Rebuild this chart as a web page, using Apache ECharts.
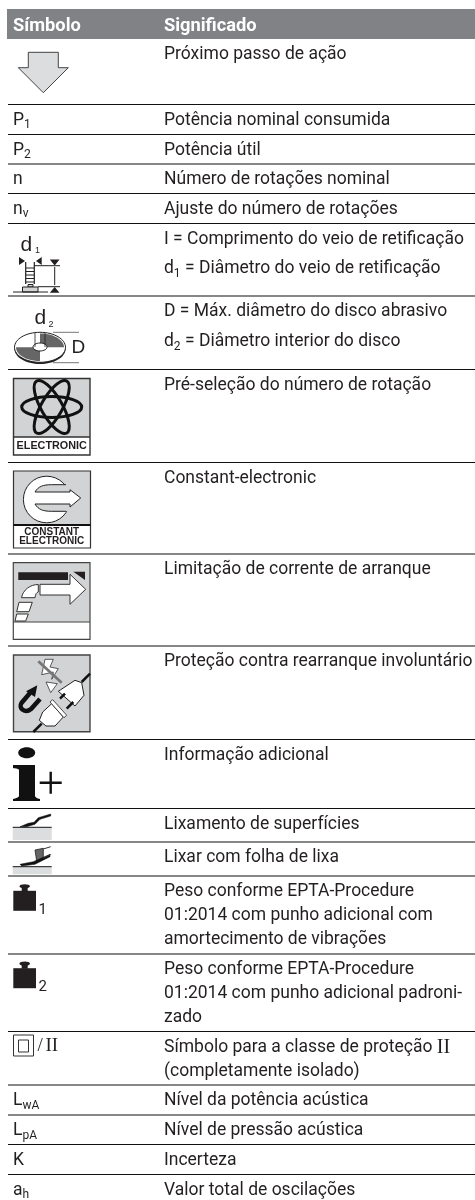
<!DOCTYPE html>
<html>
<head>
<meta charset="utf-8">
<title>Símbolo / Significado</title>
<style>
html, body { margin: 0; padding: 0; background: #fff; }
#main { width: 475px; height: 1200px; }
</style>
<script src="https://cdn.jsdelivr.net/npm/echarts@6/dist/echarts.min.js"></script>
</head>
<body>
<div id="main"></div>
<script>
// top of every row on the page (the first one is the grey header)
var rowTops = [9, 39, 104.5, 134.5, 164, 193.5, 223.5, 296, 369.5, 462.5, 554, 646, 739.5, 808.5, 842, 876, 954, 1031.5, 1085, 1115, 1144.5, 1174.5];
// left column, empty where the row has a pictogram
var symbols = ['Símbolo', '', 'P{s|1}', 'P{s|2}', 'n', 'n{s|v}', '', '', '', '', '', '', '', '', '', '', '', '', 'L{s|wA}', 'L{s|pA}', 'K', 'a{s|h}'];
// right column
var meanings = [
    ['Significado'],
    ['Próximo passo de ação'],
    ['Potência nominal consumida'],
    ['Potência útil'],
    ['Número de rotações nominal'],
    ['Ajuste do número de rotações'],
    ['I = Comprimento do veio de retificação', 'd{s|1} = Diâmetro do veio de retificação'],
    ['D = Máx. diâmetro do disco abrasivo', 'd{s|2} = Diâmetro interior do disco'],
    ['Pré-seleção do número de rotação'],
    ['Constant-electronic'],
    ['Limitação de corrente de arranque'],
    ['Proteção contra rearranque involuntário'],
    ['Informação adicional'],
    ['Lixamento de superfícies'],
    ['Lixar com folha de lixa'],
    ['Peso conforme EPTA-Procedure', '01:2014 com punho adicional com', 'amortecimento de vibrações'],
    ['Peso conforme EPTA-Procedure', '01:2014 com punho adicional padroni-', 'zado'],
    ['Símbolo para a classe de proteção {r|II}', '(completamente isolado)'],
    ['Nível da potência acústica'],
    ['Nível de pressão acústica'],
    ['Incerteza'],
    ['Valor total de oscilações']
];
var lineGaps = [0, 0, 0, 0, 0, 0, 29.5, 30, 0, 0, 0, 0, 0, 0, 0, 24, 24, 24, 0, 0, 0, 0];

var FONT = 'Roboto, "Liberation Sans", sans-serif';
var INK = '#231f20';
var richText = {
    s: { fontFamily: FONT, fontSize: 12, fill: INK, padding: [9, 0, 0, 0] },
    r: { fontFamily: '"Liberation Serif", serif', fontSize: 20, fill: INK }
};

var myChart = echarts.init(document.getElementById('main'));

/* pictogram helpers, all in page pixels */
function p(d, fill, stroke, lw) {
    return { type: 'path', shape: { pathData: d }, style: { fill: fill || 'none', stroke: stroke || 'none', lineWidth: lw || 1 } };
}
function ell(cx, cy, rx, ry, fill, stroke, lw, rot) {
    return {
        type: 'ellipse', x: cx, y: cy, rotation: rot || 0,
        shape: { cx: 0, cy: 0, rx: rx, ry: ry },
        style: { fill: fill || 'none', stroke: stroke || 'none', lineWidth: lw || 1 }
    };
}
function txt(s, x, y, size, weight, family, align) {
    return {
        type: 'text', x: x, y: y,
        style: {
            text: s, fill: INK, fontSize: size, fontWeight: weight || 'normal',
            fontFamily: family || '"Liberation Sans", sans-serif',
            align: align || 'left', verticalAlign: 'middle'
        }
    };
}
// quarter sector of the disc, as a polyline
function discQuarter(cx, cy, rx, ry, from, to) {
    var d = 'M' + cx + ' ' + cy, i, a;
    for (i = 0; i <= 12; i++) {
        a = (from + (to - from) * i / 12) * Math.PI / 180;
        d += 'L' + (cx + rx * Math.cos(a)).toFixed(1) + ' ' + (cy + ry * Math.sin(a)).toFixed(1);
    }
    return d + 'Z';
}

function pictograms() {
    var c = [];
    var GREY = '#d2d3d5', DARK = '#231f20';
    // next step arrow
    c.push(p('M28.3 52.3H58.3V67.7H68.3L43.3 92.7L18.3 67.7H28.3Z', '#dcddde', '#444', 1));
    // d1 shaft
    c.push(txt('d', 20.5, 245.5, 21), txt('1', 35, 251, 9));
    c.push(p('M19 257V265L25 261ZM41.7 257V265L36 261Z', DARK));
    c.push(p('M25.7 262V284M34.3 262V284', 'none', DARK, 1.2));
    c.push(p('M26 268H34M26 271.5H34M26 275H34M26 278.5H34M26 282H34', 'none', DARK, 1));
    c.push(p('M28 284.5H33V287H28Z', GREY, DARK, 1));
    c.push(p('M22.5 287H38V292H22.5Z', GREY, DARK, 1));
    c.push(p('M13 292H48M34 265.7H60M38 286.7H60M54.7 267V285', 'none', DARK, 1));
    c.push(p('M49.8 259.5H59.5L54.7 265.5ZM49.8 292.7H59.5L54.7 287Z', DARK));
    // d2 disc
    c.push(txt('d', 34.5, 318.5, 21), txt('2', 48.5, 324.5, 9));
    c.push(ell(40, 349, 25.5, 15, DARK));
    c.push(ell(40, 347.3, 25.5, 15, '#fff', DARK, 1));
    c.push(p(discQuarter(40, 347.3, 24, 13.8, -90, 0), '#666'));
    c.push(p(discQuarter(40, 347.3, 24, 13.8, 90, 180), '#666'));
    c.push(ell(40, 347, 7, 4, '#fff', DARK, 1));
    c.push(p('M35 333V347M45 333V347', 'none', DARK, 0.8));
    c.push(p('M53 332.3H79M53 362.7H79', 'none', '#777', 1));
    c.push(txt('D', 71.5, 348, 19));
    // electronic box
    c.push(p('M13.5 378.5H90V455H13.5Z', '#fff'));
    c.push(p('M13.5 378.5H90V437H13.5Z', GREY));
    c.push(p('M13.5 378.5H90V455H13.5ZM13.5 437H90', 'none', '#333', 1.4));
    c.push(ell(51.7, 407, 30, 10.5, 'none', '#111', 3));
    c.push(ell(51.7, 407, 30, 10.5, 'none', '#111', 3, Math.PI / 3));
    c.push(ell(51.7, 407, 30, 10.5, 'none', '#111', 3, -Math.PI / 3));
    c.push(txt('ELECTRONIC', 51.7, 446.5, 10.8, 'bold', null, 'center'));
    // constant electronic box
    c.push(p('M13.5 471H90.5V548H13.5Z', '#fff'));
    c.push(p('M13.5 471H90.5V525H13.5Z', GREY));
    c.push(p('M13.5 471H90.5V548H13.5Z', 'none', '#333', 1.2));
    c.push(p('M13.5 525H90.5', 'none', '#111', 2));
    c.push(ell(46.7, 499.5, 23.3, 23.3, '#fff', '#222', 1));
    c.push(p('M35 492C38.3 486.3 43.3 484.7 51.7 484.7H72V492Z', GREY));
    c.push(p('M35 504C38.3 509.7 43.3 511.3 51.7 511.3H72V504Z', GREY));
    c.push(p('M66 484.7H51.7C43.3 484.7 38.3 486.3 35 492M66 511.3H51.7C43.3 511.3 38.3 509.7 35 504', 'none', '#222', 1));
    c.push(p('M35 492H70V489.7L80.7 498L70 507V504H35C37 500 37 496 35 492Z', '#fff'));
    c.push(p('M35 492H70V489.7L80.7 498L70 507V504H35', 'none', '#222', 1));
    c.push(txt('CONSTANT', 51.7, 532, 10, 'bold', null, 'center'));
    c.push(txt('ELECTRONIC', 51.7, 541.5, 10, 'bold', null, 'center'));
    // inrush limit box
    c.push(p('M13.3 562.7H90V639.3H13.3Z', '#fff'));
    c.push(p('M13.3 562.7H90V622H13.3Z', GREY));
    c.push(p('M13.3 562.7H90V639.3H13.3ZM13.3 622H90', 'none', '#444', 1.2));
    c.push(p('M18.3 572.3H68V580H18.3ZM73.3 571.7H85V580Z', DARK));
    c.push(p('M40 584.3H70V574.3L85.7 589.3L70 604.3V595H40Z', '#fff', '#333', 1));
    c.push(p('M38.3 584.5C30 584.5 23 590 21.5 597.7H35C35.5 594 36.5 592.5 38.3 592Z', '#fff', '#333', 1));
    c.push(p('M19 602.3H32.3L29 611.7H16.7ZM16.7 614H28.3L25.7 621H15Z', '#fff', '#333', 1));
    // restart protection box
    c.push(p('M13.5 655H90V731.7H13.5Z', GREY, '#444', 1.4));
    c.push(p('M45 659.3H53.3L50 667L58.3 668.7L51.7 679.3L53.3 672L41.7 674.7Z', '#fff', '#333', 0.8));
    c.push(p('M46 682L57.3 683.7L50.7 692.7Z', '#fff', '#333', 0.8));
    c.push(p('M38.3 661.3L61.7 682.7', 'none', '#777', 2.8));
    c.push(p('M58.3 691.3L75 680.3L81.7 682.7L84 695.3L75 706Z', '#fff', '#222', 1));
    c.push(p('M81.7 682L90 673.7', 'none', '#111', 2.5));
    c.push(p('M51.7 703.7L63.3 717L55 726H46L39.3 720.3L42.7 712Z', '#fff', '#222', 1));
    c.push(p('M50 702L52.7 699.7L66.7 715.3L64 717.7Z', '#fff', '#222', 0.8));
    c.push(p('M41.7 723.7L33.3 732', 'none', '#111', 2.5));
    c.push(p('M60 698.7L65 693.7M66.7 708.7L73.3 702', 'none', '#111', 2.5));
    c.push(p('M30 693L21.5 703C18 708 25 714 31 709L40 699', 'none', '#111', 4.5));
    c.push(p('M26 691.3L37.3 685.3L35 697Z', '#111'));
    // additional information
    c.push(ell(26.7, 752.7, 8.5, 5.5, '#111'));
    c.push(p('M13 765H35V796C35 797 37 798.5 40 799V801H13V799C16 798.5 19 797 19 796V770C19 769 16 768.5 13 768Z', '#111'));
    c.push(p('M39.7 782.7H61.7M50.7 771.7V793.7', 'none', '#111', 2.4));
    // surface sanding
    c.push(p('M12.7 827.5H51.7V840H12.7Z', '#dcddde'));
    c.push(p('M12.7 827.3H51.7', 'none', '#111', 1));
    c.push(p('M20 826.7L28.3 823.3L34 822.3L38.3 817.7L50.7 814V816L40 819.3L35 824.3L26.7 826.7Z', '#111', '#111', 0.5));
    // sanding sheet
    c.push(p('M12.7 867H51.7V874.3H12.7Z', '#dcddde'));
    c.push(p('M12.7 866.7H51.7', 'none', '#111', 1));
    c.push(p('M35 850L43.3 848.3V858.3L36.7 861.7L36 856.7Z', '#666', '#222', 0.8));
    c.push(p('M20 864.3L33.3 861.7L50 854.3V856.7L35 864.3L21.7 866Z', '#111', '#111', 0.5));
    c.push(p('M43.3 849L50.7 846.7M43.3 858L50.7 854.5', 'none', '#333', 1));
    // weights
    [884.3, 961.7].forEach(function(t, i) {
        c.push(ell(24.7, t + 2, 5.3, 2.1, DARK));
        c.push(p('M21.7 ' + (t + 3) + 'H27.7V' + (t + 7) + 'H21.7Z', DARK));
        c.push(p('M13.3 ' + (t + 6.5) + 'H36V' + (t + 26.5) + 'H13.3Z', DARK));
        c.push(txt(String(i + 1), 38.5, t + 25.5, 15, 'normal', FONT));
    });
    // protection class II
    c.push(p('M13.5 1035H33.5V1056H13.5ZM18.5 1040H28.5V1052H18.5Z', 'none', '#333', 1));
    c.push(txt('/', 37.5, 1046.5, 19, 'normal', '"Liberation Serif", serif'));
    c.push(txt('II', 45.5, 1046.5, 19, 'normal', '"Liberation Serif", serif'));
    return c;
}

var option = {
    backgroundColor: '#fff',
    animation: false,
    grid: { left: 0, right: 0, top: 0, bottom: 0 },
    xAxis: { type: 'value', min: 0, max: 475, show: false },
    yAxis: { type: 'value', min: 0, max: 1200, inverse: true, show: false },
    series: [
        {   // header band
            type: 'custom', silent: true, clip: false, data: [rowTops[0]],
            renderItem: function(params, api) {
                var a = api.coord([7, rowTops[0]]), b = api.coord([475, rowTops[1]]);
                return { type: 'rect', shape: { x: a[0], y: a[1], width: b[0] - a[0], height: b[1] - a[1] }, style: { fill: '#808285' } };
            }
        },
        {   // row rules
            type: 'custom', silent: true, clip: false, data: rowTops.slice(2),
            renderItem: function(params, api) {
                var a = api.coord([8, api.value(0)]), b = api.coord([475, api.value(0)]);
                return { type: 'line', shape: { x1: a[0], y1: a[1], x2: b[0], y2: b[1] }, style: { stroke: '#111', lineWidth: 1.2 } };
            }
        },
        {   // both text columns
            type: 'custom', silent: true, clip: false, data: rowTops,
            renderItem: function(params, api) {
                var i = params.dataIndex, head = i === 0, kids = [];
                var font = { fontFamily: FONT, fontSize: head ? 18.3 : 17.5, fontWeight: head ? 'bold' : 'normal', fill: head ? '#fff' : INK, verticalAlign: 'middle', rich: richText };
                function put(s, x, y) {
                    var pos = api.coord([x, y]);
                    kids.push({ type: 'text', x: pos[0], y: pos[1], style: Object.assign({ text: s }, font) });
                }
                var mid = api.value(0) + (head ? 17 : 16);
                if (symbols[i]) put(symbols[i], 13, mid);
                meanings[i].forEach(function(line, k) {
                    put(line, 164, mid + k * lineGaps[i]);
                });
                return { type: 'group', children: kids };
            }
        },
        {   // pictograms of the left column
            type: 'custom', silent: true, clip: false, data: [0],
            renderItem: function(params, api) {
                var o = api.coord([0, 0]);
                return { type: 'group', x: o[0], y: o[1], children: pictograms() };
            }
        }
    ]
};
myChart.setOption(option);
</script>
</body>
</html>
